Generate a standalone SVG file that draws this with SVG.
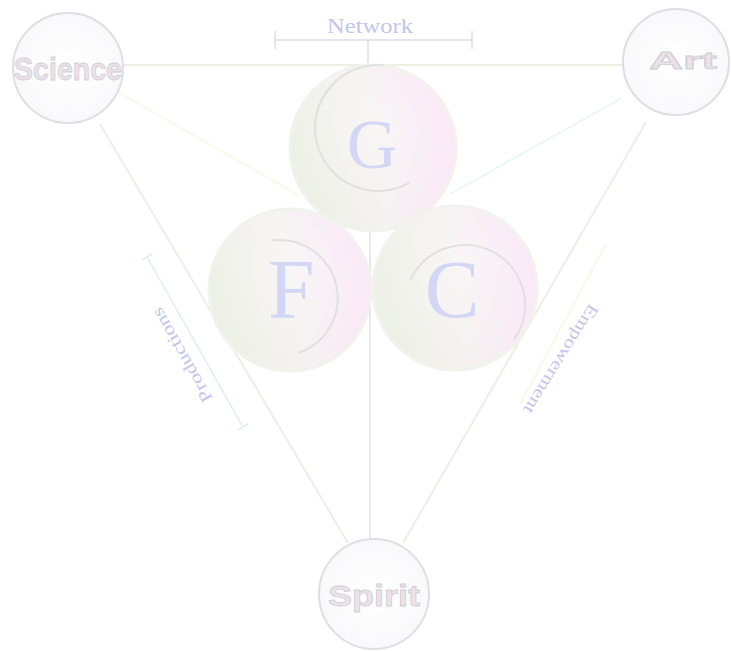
<svg xmlns="http://www.w3.org/2000/svg" width="731" height="651" viewBox="0 0 731 651">
<defs>
<linearGradient id="sph" x1="0" y1="0.3" x2="1" y2="0.1">
<stop offset="0" stop-color="#edf0e6"/>
<stop offset="0.45" stop-color="#f5f2f1"/>
<stop offset="1" stop-color="#fbe4f8"/>
</linearGradient>
<radialGradient id="hl" cx="0.55" cy="0.35" r="0.6">
<stop offset="0" stop-color="#ffffff" stop-opacity="0.35"/>
<stop offset="1" stop-color="#ffffff" stop-opacity="0"/>
</radialGradient>
<radialGradient id="nodeFill" cx="0.5" cy="0.5" r="0.5">
<stop offset="0" stop-color="#ffffff"/>
<stop offset="1" stop-color="#f9f9fb"/>
</radialGradient>
</defs>
<style>
.main{stroke:#efeee2;stroke-width:2;fill:none}
.vert{stroke:#e9e9e7;stroke-width:2;fill:none}
.brk{stroke:#dcdcee;stroke-width:1.5;fill:none}
.sphere{fill:url(#sph);stroke:#f1f2ec;stroke-width:3}
.arc{fill:none;stroke:#e0e0e0;stroke-width:2}
.big{font-family:"Liberation Serif",serif;fill:#d3d6f5;text-anchor:middle}
.lbl{font-family:"Liberation Serif",serif;fill:#c3c5ec;text-anchor:middle}
.node{fill:url(#nodeFill);stroke:#dedee6;stroke-width:2}
.ntxt{font-family:"Liberation Sans",sans-serif;font-weight:bold;fill:#ece2e8;stroke:#cfcfd6;stroke-width:0.8;text-anchor:middle}
</style>
<rect width="731" height="651" fill="#ffffff"/>
<g id="connectors">
<line class="main" x1="122" y1="65" x2="622" y2="65" stroke-width="3"/>
<line class="main" x1="100" y1="124" x2="348" y2="543"/>
<line class="main" x1="646" y1="122" x2="403" y2="543"/>
<line class="vert" x1="370" y1="228" x2="370" y2="540"/>
<line x1="118" y1="92" x2="300" y2="196" stroke="#fafaee" stroke-width="3"/>
<line x1="622" y1="98" x2="450" y2="194" stroke="#e9f7f5" stroke-width="2"/>
<g id="network-bracket">
<line class="brk" x1="275" y1="40" x2="472" y2="40"/>
<line class="brk" x1="275" y1="31" x2="275" y2="49"/>
<line class="brk" x1="472" y1="31" x2="472" y2="49"/>
<line class="brk" x1="368" y1="40" x2="368" y2="63"/>
</g>
<g id="productions-bracket" stroke="#d9f1ee" stroke-width="1.5" fill="none">
<line x1="147" y1="257" x2="243" y2="427"/>
<line x1="142" y1="260" x2="152" y2="254"/>
<line x1="238" y1="430" x2="248" y2="424"/>
</g>
<g id="empowerment-bracket" stroke="#f9f9e9" stroke-width="2" fill="none">
<line x1="606" y1="244" x2="520" y2="404"/>
</g>
</g>
<g id="labels">
<text class="lbl" x="370" y="33" font-size="20" textLength="86" lengthAdjust="spacingAndGlyphs">Network</text>
<text class="lbl" transform="translate(182,355) rotate(240.5)" font-size="17" dominant-baseline="central" textLength="106" lengthAdjust="spacingAndGlyphs">Productions</text>
<text class="lbl" transform="translate(561,359) rotate(122)" font-size="17" dominant-baseline="central" textLength="126" lengthAdjust="spacingAndGlyphs">Empowerment</text>
</g>
<g id="node-G">
<circle class="sphere" cx="373" cy="148" r="83"/>
<circle cx="373" cy="148" r="83" fill="url(#hl)"/>
<path class="arc" d="M383.5 65.2 A63 63 0 1 0 409.5 182.6"/>
<text class="big" x="372" y="168" font-size="70">G</text>
</g>
<g id="node-F">
<circle class="sphere" cx="290" cy="290" r="81"/>
<circle cx="290" cy="290" r="81" fill="url(#hl)"/>
<path class="arc" d="M271.9 240.6 A58 58 0 0 1 298.9 352.8"/>
<text class="big" x="291" y="318" font-size="84">F</text>
</g>
<g id="node-C">
<circle class="sphere" cx="455" cy="288" r="82"/>
<circle cx="455" cy="288" r="82" fill="url(#hl)"/>
<path class="arc" d="M410.6 279.6 A60 60 0 1 1 514.1 339.4"/>
<text class="big" x="452" y="317" font-size="82">C</text>
</g>
<g id="node-science">
<circle class="node" cx="68" cy="68" r="55"/>
<text class="ntxt" x="68" y="80" font-size="32" textLength="108" lengthAdjust="spacingAndGlyphs">Science</text>
</g>
<g id="node-art">
<circle class="node" cx="676" cy="62" r="53"/>
<text class="ntxt" x="683" y="69" font-size="24" textLength="68" lengthAdjust="spacingAndGlyphs">Art</text>
</g>
<g id="node-spirit">
<circle class="node" cx="374" cy="594" r="55"/>
<text class="ntxt" x="374" y="606" font-size="30" textLength="92" lengthAdjust="spacingAndGlyphs">Spirit</text>
</g>
</svg>
